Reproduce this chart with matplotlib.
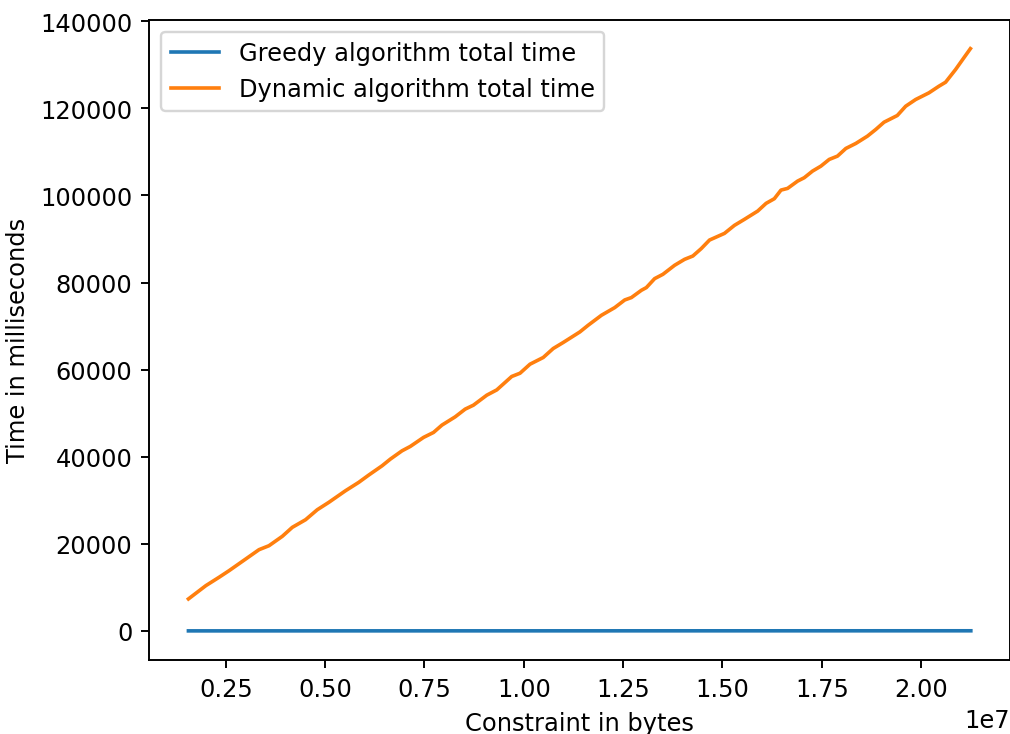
import matplotlib
matplotlib.use('Agg')
import matplotlib.pyplot as plt

# 制約サイズ (bytes)
constraint = [1.560e6, 1.998e6, 2.332e6, 2.583e6, 3.002e6, 3.336e6, 3.587e6, 3.923e6,
              4.174e6, 4.508e6, 4.802e6, 5.093e6, 5.512e6, 5.846e6, 6.097e6, 6.433e6,
              6.642e6, 6.935e6, 7.144e6, 7.477e6, 7.728e6, 7.939e6, 8.273e6, 8.524e6,
              8.732e6, 9.069e6, 9.320e6, 9.696e6, 9.905e6, 10.156e6, 10.489e6, 10.740e6,
              10.991e6, 11.411e6, 11.619e6, 11.955e6, 12.289e6, 12.540e6, 12.708e6, 12.959e6,
              13.084e6, 13.293e6, 13.501e6, 13.795e6, 14.046e6, 14.254e6, 14.465e6, 14.674e6,
              15.050e6, 15.301e6, 15.552e6, 15.886e6, 16.097e6, 16.305e6, 16.473e6, 16.639e6,
              16.890e6, 17.058e6, 17.266e6, 17.477e6, 17.686e6, 17.894e6, 18.105e6, 18.356e6,
              18.647e6, 18.858e6, 19.066e6, 19.400e6, 19.611e6, 19.862e6, 20.196e6, 20.447e6,
              20.615e6, 20.866e6, 21.074e6, 21.240e6]

# 動的計画法の合計時間 (ms)
dynamic_time = [7340, 10390, 12320, 13830, 16510, 18650, 19560, 21720,
                23780, 25530, 27820, 29520, 32180, 34110, 35780, 37910,
                39450, 41350, 42360, 44430, 45570, 47250, 49150, 50920,
                51830, 54130, 55340, 58420, 59170, 61240, 62780, 64840,
                66220, 68650, 70180, 72480, 74240, 75990, 76540, 78210,
                78830, 80890, 81880, 83950, 85320, 86080, 87780, 89750,
                91280, 93120, 94500, 96400, 98170, 99240, 101220, 101610,
                103280, 104060, 105580, 106720, 108260, 109020, 110780, 111930,
                113600, 115140, 116810, 118350, 120480, 122020, 123550, 125070,
                125990, 128900, 131580, 133700]

# 貪欲法の合計時間 (ms) - ほぼゼロ
greedy_constraint = [1.560e6, 6.433e6, 11.411e6, 16.305e6, 21.250e6]
greedy_time = [5, 10, 15, 20, 25]

# 元画像は高めのdpiで保存されているので、それに合わせる
fig = plt.figure(figsize=(5.81, 4.224), dpi=174)
ax = fig.add_axes([0.1477, 0.1007, 0.8513, 0.8714])

ax.plot(greedy_constraint, greedy_time, label='Greedy algorithm total time')
ax.plot(constraint, dynamic_time, label='Dynamic algorithm total time')

ax.set_xlabel('Constraint in bytes')
ax.set_ylabel('Time in milliseconds')
ax.legend(loc='upper left')

fig.savefig('out.png', dpi=174)
